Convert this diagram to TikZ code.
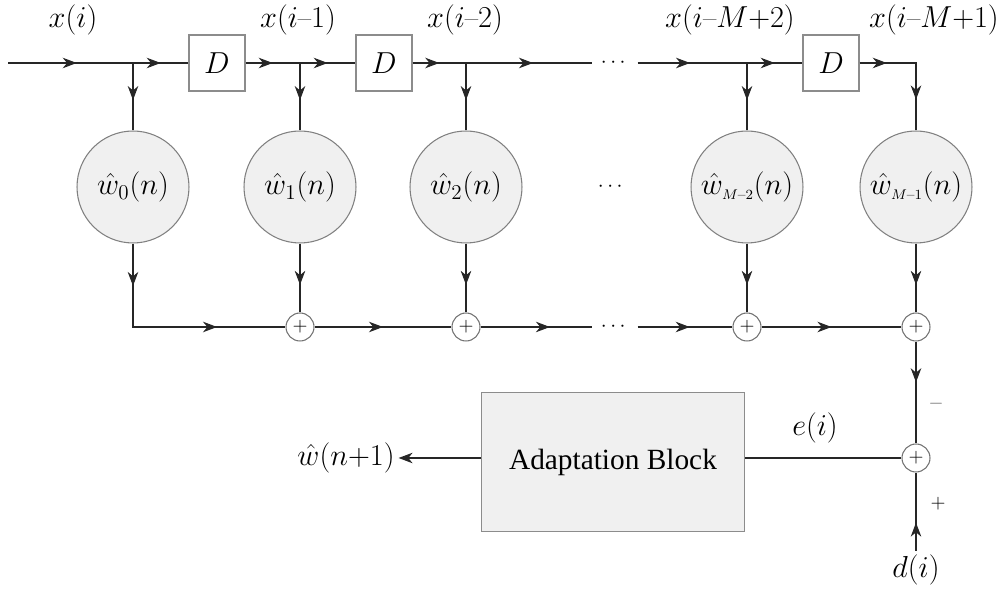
\documentclass[tikz,border=0pt]{standalone}
\usepackage{amsmath}
\usepackage{fontspec}
\newfontfamily\timesfont{Liberation Serif}
\usetikzlibrary{arrows.meta, decorations.markings}

\begin{document}
\begin{tikzpicture}[
    x=0.02cm, y=-0.02cm,
    line width=0.6pt,
    mathlabel/.style={font=\fontsize{16.5}{20}\selectfont, inner sep=2pt},
    delay/.style={rectangle, draw=black!45, fill=white, minimum size=1.12cm, inner sep=0pt, font=\fontsize{16.5}{20}\selectfont},
    weight/.style={circle, draw=black!50, fill=black!6, minimum size=2.24cm, inner sep=0pt, font=\fontsize{16.5}{20}\selectfont},
    adder/.style={circle, draw=black!55, fill=white, minimum size=0.56cm, inner sep=0pt, font=\fontsize{11}{11}\selectfont},
    dots/.style={minimum width=0.88cm, inner sep=0pt, text height=0.5em, text depth=0pt, font=\fontsize{13}{15}\selectfont},
    signlabel/.style={font=\fontsize{11}{11}\selectfont, inner sep=0pt},
    midarrow/.style={postaction={decorate, decoration={markings, mark=at position #1 with {\arrow{Stealth[length=8pt, width=6pt, inset=2.5pt]}}}}},
    midarrow/.default=0.5,
    wire/.style={draw=black!85}
]
\useasboundingbox (0,0) rectangle (1005,590);

% tapped delay line
\coordinate (in) at (8,63);
\coordinate (t0) at (133,63);
\coordinate (t1) at (300,63);
\coordinate (t2) at (466,63);
\coordinate (t3) at (747,63);
\node[delay] (d1) at (217,63) {$D$};
\node[delay] (d2) at (384,63) {$D$};
\node[delay] (d3) at (831,63) {$D$};
\node[dots] (topdots) at (615,63) {$\cdots$};

\node[mathlabel] (x0) at (73,20) {$x(i)$};
\node[mathlabel] (x1) at (298,20) {$x(i\text{--}1)$};
\node[mathlabel] (x2) at (465,20) {$x(i\text{--}2)$};
\node[mathlabel] (x3) at (730,20) {$x(i\text{--}M{+}2)$};
\node[mathlabel] (x4) at (934,20) {$x(i\text{--}M{+}1)$};

% weights
\node[weight] (w0) at (133,187) {$\hat{w}_{0}(n)$};
\node[weight] (w1) at (300,187) {$\hat{w}_{1}(n)$};
\node[weight] (w2) at (466,187) {$\hat{w}_{2}(n)$};
\node[weight] (w3) at (747,187) {$\hat{w}_{\scriptscriptstyle M\text{--}2}(n)$};
\node[weight] (w4) at (916,187) {$\hat{w}_{\scriptscriptstyle M\text{--}1}(n)$};
\node[dots] (middots) at (612,187) {$\cdots$};

% adders
\node[adder] (s1) at (300,327) {$+$};
\node[adder] (s2) at (466,327) {$+$};
\node[adder] (s3) at (747,327) {$+$};
\node[adder] (s4) at (916,327) {$+$};
\node[dots] (botdots) at (615,327) {$\cdots$};
\node[adder] (se) at (916,458) {$+$};

% adaptation
\node[rectangle, draw=black!45, fill=black!6, minimum width=5.26cm, minimum height=2.78cm] (adapt) at (613,462)
    {\timesfont\fontsize{16.7}{20}\selectfont Adaptation Block};
\node[mathlabel] (wout) at (346,458) {$\hat{w}(n{+}1)$};
\node[mathlabel] (din) at (916,570) {$d(i)$};
\node[mathlabel] (err) at (815,428) {$e(i)$};
\node[signlabel, text=black!60] (minus) at (936,404) {$-$};
\node[signlabel] (plus) at (938,504) {$+$};

% connections
\draw[wire, midarrow=0.55] (in) -- (t0);
\draw[wire, midarrow] (t0) -- (d1);
\draw[wire, midarrow] (d1) -- (t1);
\draw[wire, midarrow] (t1) -- (d2);
\draw[wire, midarrow] (d2) -- (t2);
\draw[wire, midarrow=0.53] (t2) -- (topdots);
\draw[wire, midarrow=0.48] (topdots) -- (t3);
\draw[wire, midarrow] (t3) -- (d3);
\draw[wire, midarrow=0.22, midarrow=0.75] (d3) -| (w4);
\foreach \i in {0,...,3}
    \draw[wire, midarrow=0.55] (t\i) -- (w\i);

\draw[wire, midarrow=0.18, midarrow=0.71] (w0) |- (s1);
\foreach \i in {1,...,4}
    \draw[wire, midarrow=0.6] (w\i) -- (s\i);
\draw[wire, midarrow] (s1) -- (s2);
\draw[wire, midarrow=0.62] (s2) -- (botdots);
\draw[wire, midarrow=0.55] (botdots) -- (s3);
\draw[wire, midarrow] (s3) -- (s4);
\draw[wire, midarrow=0.4] (s4) -- (se);
\draw[wire, midarrow=0.36] (din) -- (se);
\draw[wire] (se) -- (se -| adapt.east);
\draw[wire, -{Stealth[length=8pt, width=6pt, inset=2.5pt]}] (se -| adapt.west) -- (wout);
\end{tikzpicture}
\end{document}
